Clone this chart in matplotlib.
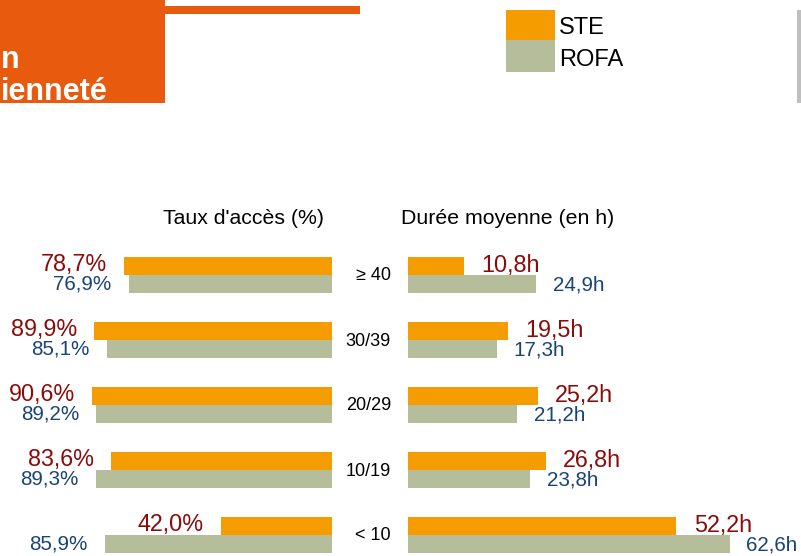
import matplotlib.pyplot as plt
from matplotlib.patches import Rectangle
from matplotlib.transforms import blended_transform_factory

plt.rcParams['font.family'] = ['Liberation Sans', 'DejaVu Sans']

# Data
categories = ['≥ 40', '30/39', '20/29', '10/19', '< 10']
acces_ste = [78.7, 89.9, 90.6, 83.6, 42.0]
acces_rofa = [76.9, 85.1, 89.2, 89.3, 85.9]
duree_ste = [10.8, 19.5, 25.2, 26.8, 52.2]
duree_rofa = [24.9, 17.3, 21.2, 23.8, 62.6]
series = ['STE', 'ROFA']

c_ste = '#F59C00'
c_rofa = '#B6BD9B'
c_red = '#8B0B0B'
c_blue = '#1A4477'
c_title = '#E85B0E'

W, H = 801, 556
fig = plt.figure(figsize=(W / 100, H / 100), dpi=100)


def fx(px):
    return px / W


def fy(py):
    return 1 - py / H


# axes geometry in pixels
row0, row_step, bar_h = 274.7, 65.0, 18.0 / 65.0
ax_top = row0 - 0.5 * row_step
y_bottom = (H - row0) / row_step
ax_h = (H - ax_top) / H

ax_l = fig.add_axes([fx(332 - 264.5), 0, fx(264.5), ax_h])
ax_r = fig.add_axes([fx(408), 0, fx(359.8), ax_h])

ys = list(range(len(categories)))
y_ste = [y - bar_h / 2 for y in ys]
y_rofa = [y + bar_h / 2 for y in ys]

ax_l.barh(y_ste, acces_ste, height=bar_h, color=c_ste)
ax_l.barh(y_rofa, acces_rofa, height=bar_h, color=c_rofa)
ax_l.set_xlim(100, 0)

ax_r.barh(y_ste, duree_ste, height=bar_h, color=c_ste)
ax_r.barh(y_rofa, duree_rofa, height=bar_h, color=c_rofa)
ax_r.set_xlim(0, 70)

for ax in (ax_l, ax_r):
    ax.set_ylim(y_bottom, -0.5)
    ax.axis('off')

fmt = lambda v: f'{v:.1f}'.replace('.', ',')

for y1, y2, a, b in zip(y_ste, y_rofa, acces_ste, acces_rofa):
    ax_l.annotate(fmt(a) + '%', (a, y1), xytext=(-12.3, 1), textcoords='offset points',
                  ha='right', va='center', fontsize=16.8, color=c_red)
    ax_l.annotate(fmt(b) + '%', (b, y2), xytext=(-12.3, 0), textcoords='offset points',
                  ha='right', va='center', fontsize=14.9, color=c_blue)

for y1, y2, a, b in zip(y_ste, y_rofa, duree_ste, duree_rofa):
    ax_r.annotate(fmt(a) + 'h', (a, y1), xytext=(12.6, 0), textcoords='offset points',
                  ha='left', va='center', fontsize=16.8, color=c_red)
    ax_r.annotate(fmt(b) + 'h', (b, y2), xytext=(12.0, -1), textcoords='offset points',
                  ha='left', va='center', fontsize=14.9, color=c_blue)

trans = blended_transform_factory(fig.transFigure, ax_l.transData)
for y, cat in zip(ys, categories):
    ax_l.text(fx(391), y + 0.02, cat, transform=trans, ha='right', va='center',
              fontsize=13, color='black', clip_on=False)

fig.text(fx(243.5), fy(218), "Taux d'accès (%)", ha='center', va='center', fontsize=15.3)
fig.text(fx(508), fy(218), 'Durée moyenne (en h)', ha='center', va='center', fontsize=15.3)

# header decoration
fig.add_artist(Rectangle((0, fy(103)), fx(165), 103 / H, transform=fig.transFigure,
                         color=c_title, lw=0))
fig.add_artist(Rectangle((fx(165), fy(14)), fx(195), 8 / H, transform=fig.transFigure,
                         color=c_title, lw=0))
fig.add_artist(Rectangle((fx(797), fy(103)), fx(4), 93 / H, transform=fig.transFigure,
                         color='#BFBFBF', lw=0))
fig.text(fx(1), fy(68.5), 'n', ha='left', va='baseline', fontsize=22,
         fontweight='bold', color='white')
fig.text(fx(1), fy(99.5), 'ienneté', ha='left', va='baseline', fontsize=22,
         fontweight='bold', color='white')

# legend
leg_boxes = [(10, 40, 34), (40, 72, 65.7)]
for name, col, (top, bot, base) in zip(series, [c_ste, c_rofa], leg_boxes):
    fig.add_artist(Rectangle((fx(506), fy(bot)), fx(49), (bot - top) / H,
                             transform=fig.transFigure, color=col, lw=0))
    fig.text(fx(559), fy(base), name, ha='left', va='baseline', fontsize=17)

fig.savefig('out.png', dpi=100)
